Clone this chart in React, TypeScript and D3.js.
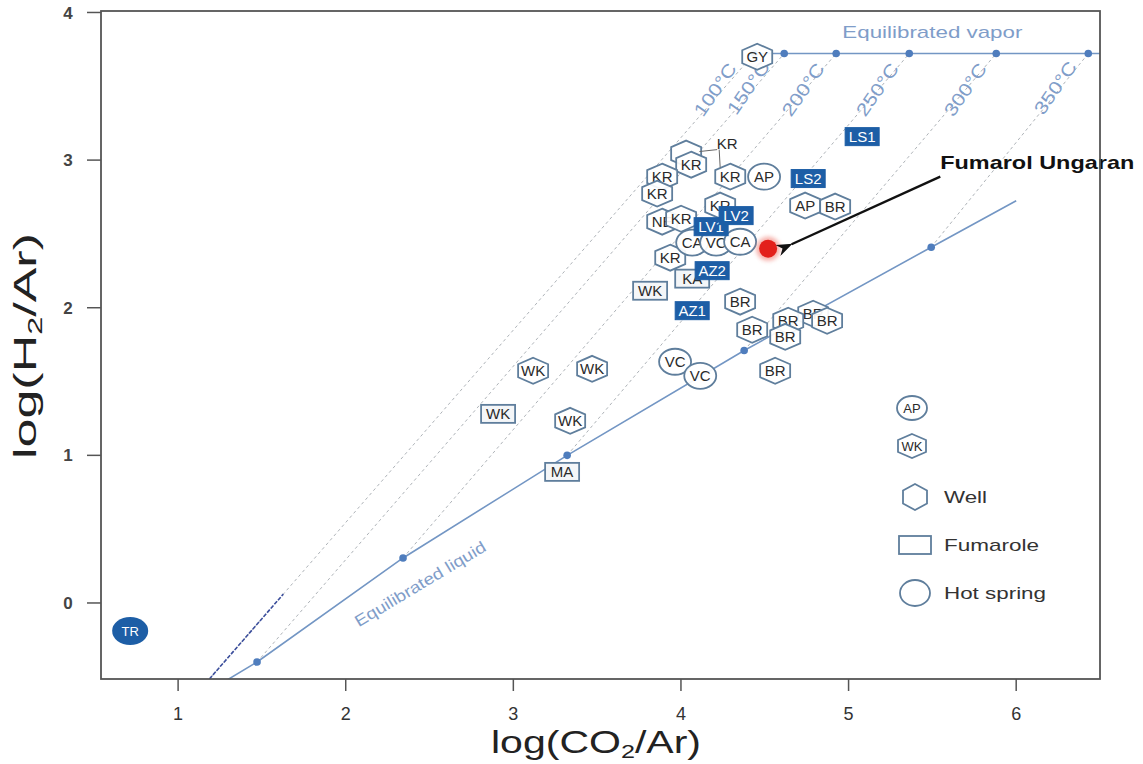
import React from "react";
import * as d3 from "d3";

const WIDTH = 1143;
const HEIGHT = 764;

// isotherms: points on the equilibrated liquid and vapour curves
const temperatures = [100, 150, 200, 250, 300, 350];
const liquidX = [1.06, 1.471, 2.342, 3.321, 4.377, 5.493];
const liquidY = [-0.68, -0.4, 0.305, 1.0, 1.71, 2.41];
const liquidEnd: [number, number] = [6.0, 2.725];
const vaporX = [4.437, 4.616, 4.926, 5.362, 5.881, 6.43];
const vaporY = 3.722;
const tempLabelX = [4.204, 4.401, 4.729, 5.171, 5.696, 6.233];
const tempLabelY = [3.478, 3.49, 3.478, 3.478, 3.478, 3.49];

const xTicks = [1, 2, 3, 4, 5, 6];
const yTicks = [0, 1, 2, 3, 4];

type Sample = { label: string; x: number; y: number };

const wells: Sample[] = [
  { label: "GY", x: 4.455, y: 3.7 },
  { label: "", x: 4.031, y: 3.044 },
  { label: "KR", x: 4.061, y: 2.969 },
  { label: "KR", x: 3.888, y: 2.888 },
  { label: "KR", x: 3.858, y: 2.773 },
  { label: "KR", x: 4.294, y: 2.888 },
  { label: "AP", x: 4.741, y: 2.692 },
  { label: "BR", x: 4.92, y: 2.685 },
  { label: "KR", x: 4.234, y: 2.692 },
  { label: "NE", x: 3.888, y: 2.583 },
  { label: "KR", x: 4.001, y: 2.603 },
  { label: "KR", x: 3.936, y: 2.339 },
  { label: "BR", x: 4.353, y: 2.041 },
  { label: "BR", x: 4.425, y: 1.851 },
  { label: "BR", x: 4.789, y: 1.959 },
  { label: "BR", x: 4.64, y: 1.912 },
  { label: "BR", x: 4.872, y: 1.912 },
  { label: "BR", x: 4.622, y: 1.803 },
  { label: "BR", x: 4.562, y: 1.573 },
  { label: "WK", x: 3.118, y: 1.573 },
  { label: "WK", x: 3.47, y: 1.586 },
  { label: "WK", x: 3.339, y: 1.234 },
];

const springs: Sample[] = [
  { label: "AP", x: 4.496, y: 2.888 },
  { label: "CA", x: 4.067, y: 2.441 },
  { label: "VC", x: 4.21, y: 2.441 },
  { label: "CA", x: 4.353, y: 2.447 },
  { label: "VC", x: 3.965, y: 1.634 },
  { label: "VC", x: 4.115, y: 1.539 },
];

const fumaroles: Sample[] = [
  { label: "KA", x: 4.067, y: 2.197 },
  { label: "WK", x: 3.816, y: 2.115 },
  { label: "WK", x: 2.909, y: 1.281 },
  { label: "MA", x: 3.291, y: 0.888 },
];

const fumarolesDark: Sample[] = [
  { label: "LS1", x: 5.081, y: 3.159 },
  { label: "LS2", x: 4.759, y: 2.875 },
  { label: "LV1", x: 4.18, y: 2.549 },
  { label: "LV2", x: 4.329, y: 2.624 },
  { label: "AZ2", x: 4.186, y: 2.251 },
  { label: "AZ1", x: 4.067, y: 1.98 },
];

const trSample: Sample = { label: "TR", x: 0.714, y: -0.19 };
const ungaran = { x: 4.52, y: 2.4 };
const ungaranText = { x: 5.547, y: 2.942 };
const arrowFrom = { x: 5.547, y: 2.888 };
const arrowTo = { x: 4.66, y: 2.43 };
// leader line of the upper KR label
const krLabel = { x: 4.276, y: 3.112 };
const krLeader: [number, number][][] = [
  [[4.11, 3.058], [4.216, 3.071]],
  [[4.228, 3.071], [4.234, 2.95]],
];

const x = d3.scaleLinear().domain([0.54, 6.5]).range([101, 1100]);
const y = d3.scaleLinear().domain([-0.515, 4.01]).range([679, 11]);
const line = d3
  .line<[number, number]>()
  .x((d) => x(d[0]))
  .y((d) => y(d[1]));

const FONT = "'Liberation Sans', Arial, Helvetica, sans-serif";
const STROKE = "#5f7e9c";
const CURVE = "#7396c4";
const DOT = "#4f7dbd";
const BLUE = "#1d5ea6";
const LABEL_BLUE = "#7f9dc9";

const hexPath = (cx: number, cy: number, w: number, h: number) =>
  `M${cx},${cy - h}L${cx + w},${cy - h / 2}L${cx + w},${cy + h / 2}L${cx},${cy + h}L${cx - w},${cy + h / 2}L${cx - w},${cy - h / 2}Z`;

const Label = ({ cx, cy, text, color = "#2a2a2a", size = 15 }: any) => (
  <text
    x={cx}
    y={cy}
    dy="0.36em"
    textAnchor="middle"
    fontSize={size}
    fill={color}
    fontFamily={FONT}
  >
    {text}
  </text>
);

const App = () => {
  const left = x.range()[0];
  const right = x.range()[1];
  const bottom = y.range()[0];
  const top = y.range()[1];

  // dark dashed piece of the 100 °C isotherm near the bottom
  const along = (i: number, yy: number): [number, number] => {
    const t = (yy - liquidY[i]) / (vaporY - liquidY[i]);
    return [liquidX[i] + t * (vaporX[i] - liquidX[i]), yy];
  };

  return (
    <svg
      width={WIDTH}
      height={HEIGHT}
      style={{ position: "absolute", left: 0, top: 0, background: "#fff" }}
    >
      <defs>
        <clipPath id="plot">
          <rect x={left} y={top} width={right - left} height={bottom - top} />
        </clipPath>
        <marker
          id="head"
          viewBox="0 0 16 12"
          refX="1"
          refY="6"
          markerWidth="16"
          markerHeight="12"
          markerUnits="userSpaceOnUse"
          orient="auto-start-reverse"
        >
          <path d="M0,6 L16,0 L11,6 L16,12 Z" fill="#111" />
        </marker>
        <filter id="glow" x="-1" y="-1" width="3" height="3">
          <feGaussianBlur stdDeviation="2" />
        </filter>
      </defs>

      <g clipPath="url(#plot)">
        {temperatures.map((t, i) => (
          <path
            key={t}
            d={line([
              [liquidX[i], liquidY[i]],
              [vaporX[i], vaporY],
            ])!}
            stroke="#aeb3b8"
            strokeWidth={1}
            strokeDasharray="3,3"
            fill="none"
          />
        ))}
        <path
          d={line([along(0, -0.515), along(0, 0.06)])!}
          stroke="#3b4e9c"
          strokeWidth={1.6}
          strokeDasharray="4,1.5"
          fill="none"
        />
        <path
          d={line([...liquidX.map((lx, i) => [lx, liquidY[i]] as [number, number]), liquidEnd])!}
          stroke={CURVE}
          strokeWidth={1.6}
          fill="none"
        />
        <path
          d={line([
            [vaporX[0], vaporY],
            [6.5, vaporY],
          ])!}
          stroke={CURVE}
          strokeWidth={1.6}
          fill="none"
        />
        {liquidX.map((lx, i) => (
          <circle key={"l" + i} cx={x(lx)} cy={y(liquidY[i])} r={3.8} fill={DOT} />
        ))}
        {vaporX.map((vx, i) => (
          <circle key={"v" + i} cx={x(vx)} cy={y(vaporY)} r={3.8} fill={DOT} />
        ))}
      </g>

      {temperatures.map((t, i) => (
        <text
          key={"t" + t}
          transform={`translate(${x(tempLabelX[i])},${y(tempLabelY[i])}) rotate(-55)`}
          textAnchor="middle"
          dy="0.35em"
          fontSize={18}
          fill={LABEL_BLUE}
          fontFamily={FONT}
          textLength={60}
          lengthAdjust="spacingAndGlyphs"
        >
          {`${t}°C`}
        </text>
      ))}
      <text
        x={x(5.5)}
        y={y(3.83)}
        textAnchor="middle"
        fontSize={17}
        fill={LABEL_BLUE}
        fontFamily={FONT}
        textLength={180}
        lengthAdjust="spacingAndGlyphs"
      >
        Equilibrated vapor
      </text>
      <text
        transform={`translate(${x(2.444)},${y(0.129)}) rotate(-31)`}
        textAnchor="middle"
        dy="0.35em"
        fontSize={16}
        fill={LABEL_BLUE}
        fontFamily={FONT}
        textLength={150}
        lengthAdjust="spacingAndGlyphs"
      >
        Equilibrated liquid
      </text>

      {/* wells */}
      {wells.map((d, i) => (
        <g key={"w" + i}>
          <path
            d={hexPath(x(d.x), y(d.y), 15, 13)}
            fill="#fff"
            fillOpacity={0.92}
            stroke={STROKE}
            strokeWidth={1.8}
          />
          <Label cx={x(d.x)} cy={y(d.y)} text={d.label} />
        </g>
      ))}
      {/* hot springs */}
      {springs.map((d, i) => (
        <g key={"s" + i}>
          <ellipse
            cx={x(d.x)}
            cy={y(d.y)}
            rx={16}
            ry={13}
            fill="#fff"
            fillOpacity={0.92}
            stroke={STROKE}
            strokeWidth={1.8}
          />
          <Label cx={x(d.x)} cy={y(d.y)} text={d.label} />
        </g>
      ))}
      {/* fumaroles */}
      {fumaroles.map((d, i) => (
        <g key={"f" + i}>
          <rect
            x={x(d.x) - 17}
            y={y(d.y) - 9}
            width={34}
            height={18}
            fill="#f4f6f8"
            stroke={STROKE}
            strokeWidth={1.8}
          />
          <Label cx={x(d.x)} cy={y(d.y)} text={d.label} />
        </g>
      ))}
      {fumarolesDark.map((d, i) => (
        <g key={"fd" + i}>
          <rect
            x={x(d.x) - 17}
            y={y(d.y) - 9}
            width={34}
            height={18}
            fill={BLUE}
            stroke={BLUE}
            strokeWidth={1}
          />
          <Label cx={x(d.x)} cy={y(d.y)} text={d.label} color="#fff" />
        </g>
      ))}
      <ellipse cx={x(trSample.x)} cy={y(trSample.y)} rx={18} ry={14} fill={BLUE} />
      <Label cx={x(trSample.x)} cy={y(trSample.y)} text={trSample.label} color="#fff" size={13} />

      {/* KR leader */}
      {krLeader.map((seg, i) => (
        <path key={"k" + i} d={line(seg)!} stroke="#666" strokeWidth={1} fill="none" />
      ))}
      <Label cx={x(krLabel.x)} cy={y(krLabel.y)} text="KR" />

      {/* Ungaran fumarole */}
      <circle cx={x(ungaran.x)} cy={y(ungaran.y)} r={12} fill="#f07a70" opacity={0.6} filter="url(#glow)" />
      <circle cx={x(ungaran.x)} cy={y(ungaran.y)} r={9} fill="#e3201b" />
      <line
        x1={x(arrowFrom.x)}
        y1={y(arrowFrom.y)}
        x2={x(arrowTo.x)}
        y2={y(arrowTo.y)}
        stroke="#111"
        strokeWidth={2.4}
        markerEnd="url(#head)"
      />
      <text
        x={x(ungaranText.x)}
        y={y(ungaranText.y)}
        fontSize={19}
        fontWeight="bold"
        fill="#111"
        fontFamily={FONT}
        textLength={194}
        lengthAdjust="spacingAndGlyphs"
      >
        Fumarol Ungaran
      </text>

      {/* legend */}
      <g>
        <ellipse cx={912} cy={408} rx={15} ry={12} fill="#fff" stroke={STROKE} strokeWidth={1.8} />
        <Label cx={912} cy={408} text="AP" size={13} />
        <path d={hexPath(912, 446, 14, 12)} fill="#fff" stroke={STROKE} strokeWidth={1.8} />
        <Label cx={912} cy={446} text="WK" size={13} />
        <path d={hexPath(915, 497, 12, 13)} fill="none" stroke={STROKE} strokeWidth={1.8} />
        <rect x={899} y={536} width={32} height={18} fill="none" stroke={STROKE} strokeWidth={1.8} />
        <ellipse cx={915} cy={593} rx={15} ry={13} fill="none" stroke={STROKE} strokeWidth={1.8} />
        {[
          ["Well", 497, 43],
          ["Fumarole", 545, 95],
          ["Hot spring", 593, 102],
        ].map(([t, cy, len]) => (
          <text
            key={t as string}
            x={944}
            y={cy as number}
            dy="0.36em"
            fontSize={17}
            fill="#333"
            fontFamily={FONT}
            textLength={len as number}
            lengthAdjust="spacingAndGlyphs"
          >
            {t}
          </text>
        ))}
      </g>

      {/* frame and axes */}
      <rect
        x={left}
        y={top}
        width={right - left}
        height={bottom - top}
        fill="none"
        stroke="#555"
        strokeWidth={1.8}
      />
      {xTicks.map((t) => (
        <g key={"xt" + t}>
          <line x1={x(t)} x2={x(t)} y1={bottom} y2={bottom + 12} stroke="#555" strokeWidth={1.5} />
          <text
            x={x(t)}
            y={bottom + 41}
            textAnchor="middle"
            fontSize={18}
            fill="#333"
            fontFamily={FONT}
          >
            {t}
          </text>
        </g>
      ))}
      {yTicks.map((t) => (
        <g key={"yt" + t}>
          <line x1={left - 14} x2={left} y1={y(t)} y2={y(t)} stroke="#555" strokeWidth={1.5} />
          <text
            x={68}
            y={y(t)}
            dy="0.36em"
            textAnchor="middle"
            fontSize={17}
            fontWeight="bold"
            fill="#444"
            fontFamily={FONT}
          >
            {t}
          </text>
        </g>
      ))}
      <text
        x={596}
        y={753}
        textAnchor="middle"
        fontSize={31}
        fill="#222"
        fontFamily={FONT}
        textLength={210}
        lengthAdjust="spacingAndGlyphs"
      >
        log(CO<tspan fontSize={19} dy={5}>2</tspan>
        <tspan dy={-5}>/Ar)</tspan>
      </text>
      <text
        transform="translate(36,346) rotate(-90)"
        textAnchor="middle"
        fontSize={32}
        fill="#222"
        fontFamily={FONT}
        textLength={226}
        lengthAdjust="spacingAndGlyphs"
      >
        log(H<tspan fontSize={20} dy={6}>2</tspan>
        <tspan dy={-6}>/Ar)</tspan>
      </text>
    </svg>
  );
};

export default App;
